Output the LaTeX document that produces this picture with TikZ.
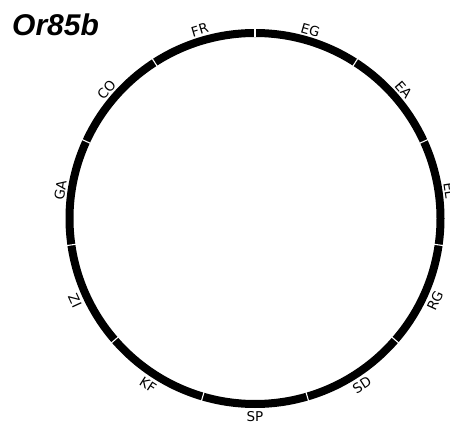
\documentclass[tikz,border=0pt]{standalone}
\usepackage{fontspec}
\setmainfont{DejaVu Sans}
\newfontfamily\titlefont{Liberation Sans}
\usetikzlibrary{calc}
\begin{document}
\begin{tikzpicture}[x=1pt,y=1pt,
  ring/.style={line width=8pt, black},
  sep/.style={white, line width=1.1pt},
  lab/.style={font=\fontsize{13.5}{15}\selectfont, inner sep=0pt, anchor=center},
  ttl/.style={font=\titlefont\bfseries\itshape\fontsize{30}{33}\selectfont, inner sep=0pt, anchor=base west}]
\useasboundingbox[clip] (0,0) rectangle (450,424);
\coordinate (c) at (255,205.5);
\node[ttl] (title) at (12,388) {Or85b};
\draw[ring] (c) circle (185.5);
\foreach \k in {0,...,10}{
  \pgfmathsetmacro{\a}{90-\k*360/11}
  \draw[sep] ($(c)+(\a:181)$) -- ($(c)+(\a:190.5)$);
}
\foreach \name [count=\k from 0] in {EG,EA,EL,RG,SD,SP,KF,ZI,GA,CO,FR}{
  \pgfmathsetmacro{\a}{90-180/11-\k*360/11}
  \pgfmathsetmacro{\s}{sin(\a)}
  \pgfmathsetmacro{\rot}{\s>=0 ? \a-90 : \a+90}
  \pgfmathsetmacro{\rr}{\s>=0 ? 196.5 : 198}
  \node[lab, rotate=\rot] (l\k) at ($(c)+(\a:\rr)$) {\name};
}
\end{tikzpicture}
\end{document}
